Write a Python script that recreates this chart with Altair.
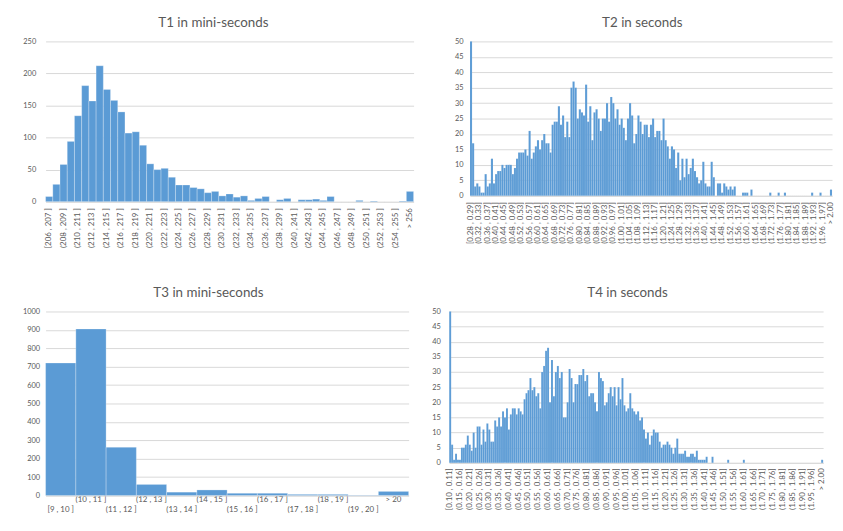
import json
import altair as alt
import pandas as pd

# ---------------- data ----------------
# T1 (mini-seconds), bins of width 1
t1_labels = ["[206 , 207 ]"] + [f"({a} , {a + 1} ]" for a in range(207, 256)] + ["> 256"]
t1_counts = [8, 27, 58, 94, 134, 181, 157, 212, 175, 158,
             140, 107, 109, 88, 59, 50, 52, 38, 26, 26,
             22, 20, 14, 16, 9, 12, 7, 9, 2, 5,
             8, 0, 3, 5, 0, 3, 3, 4, 2, 8,
             0, 0, 0, 2, 0, 1, 0, 0, 0, 1, 16]

# T2 (seconds), bins of width 0.01 from 0.28
t2_labels = ["[0.28 , 0.29]"] + [f"({lo / 100:.2f} , {(lo + 1) / 100:.2f}]" for lo in range(29, 200)] + ["> 2.00"]
t2_counts = [50, 17, 3, 4, 3, 1, 1, 7, 3, 4,
             12, 4, 7, 8, 8, 10, 9, 10, 10, 10,
             7, 9, 12, 14, 14, 14, 15, 13, 21, 12,
             14, 16, 18, 15, 18, 20, 17, 17, 14, 23,
             24, 24, 29, 23, 26, 19, 24, 19, 35, 37,
             35, 25, 28, 27, 26, 36, 24, 29, 18, 27,
             28, 25, 21, 25, 25, 30, 24, 32, 30, 25,
             28, 23, 25, 22, 18, 25, 30, 26, 17, 20,
             26, 24, 20, 23, 23, 19, 23, 25, 19, 21,
             21, 18, 25, 18, 16, 12, 16, 15, 9, 14,
             5, 12, 6, 12, 7, 9, 12, 8, 6, 4,
             5, 11, 4, 3, 3, 11, 6, 0, 4, 4,
             1, 4, 3, 2, 3, 2, 3, 0, 0, 0,
             1, 1, 1, 0, 2, 0, 0, 0, 0, 0,
             0, 0, 0, 1, 0, 0, 0, 1, 0, 0,
             1, 0, 0, 0, 0, 0, 0, 0, 0, 0,
             0, 0, 0, 1, 0, 0, 0, 1, 0, 0,
             0, 0, 2]

# T3 (mini-seconds), bins of width 1
t3_labels = ["[9 , 10 ]"] + [f"({a} , {a + 1} ]" for a in range(10, 20)] + ["> 20"]
t3_counts = [720, 905, 262, 60, 18, 30, 12, 12, 6, 6, 2, 22]

# T4 (seconds), bins of width 0.01 from 0.10
t4_labels = ["[0.10 , 0.11]"] + [f"({lo / 100:.2f} , {(lo + 1) / 100:.2f}]" for lo in range(11, 200)] + ["> 2.00"]
t4_counts = [50, 6, 1, 3, 1, 1, 5, 5, 6, 9,
             6, 4, 10, 5, 12, 12, 6, 11, 7, 13,
             11, 7, 7, 14, 12, 15, 12, 17, 15, 18,
             11, 16, 18, 18, 16, 18, 17, 16, 21, 23,
             24, 28, 24, 25, 22, 23, 18, 30, 32, 37,
             38, 20, 34, 22, 30, 32, 28, 30, 15, 15,
             20, 31, 28, 20, 26, 26, 29, 29, 31, 27,
             29, 22, 23, 23, 20, 17, 30, 28, 27, 19,
             20, 23, 25, 22, 25, 19, 25, 21, 28, 19,
             17, 18, 23, 18, 17, 16, 17, 14, 15, 11,
             8, 10, 6, 9, 11, 10, 10, 7, 5, 6,
             6, 7, 6, 5, 3, 5, 8, 3, 3, 3,
             4, 2, 2, 3, 3, 2, 4, 1, 1, 1,
             1, 2, 0, 0, 2, 0, 0, 0, 0, 0,
             0, 0, 1, 0, 0, 0, 0, 0, 0, 0,
             1, 0, 0, 0, 0, 0, 0, 0, 0, 0,
             0, 0, 0, 0, 0, 0, 0, 0, 0, 0,
             0, 0, 0, 0, 0, 0, 0, 0, 0, 0,
             0, 0, 0, 0, 0, 0, 0, 0, 0, 0,
             1]

# y-axis tick values
t1_yticks = [0, 50, 100, 150, 200, 250]
t2_yticks = [0, 5, 10, 15, 20, 25, 30, 35, 40, 45, 50]
t3_yticks = [0, 100, 200, 300, 400, 500, 600, 700, 800, 900, 1000]
t4_yticks = [0, 5, 10, 15, 20, 25, 30, 35, 40, 45, 50]

# x labels that Excel shows
t1_shown = t1_labels[::2]
t2_shown = t2_labels[::4]
t4_shown = t4_labels[::5]
t3_lower_row = t3_labels[::2]

BLUE = "#5B9BD5"
GRID = "#D9D9D9"
TEXT = "#595959"
FONT = "Lato"


def hist(labels, counts, title, width, height, yticks, yext, ypad, x_axis, sw, so):
    df = pd.DataFrame({"bin": labels, "count": counts})
    return (
        alt.Chart(df, title=alt.TitleParams(title, font=FONT, fontSize=13.5, fontWeight="normal",
                                            color=TEXT, anchor="middle", frame="bounds", offset=8))
        .mark_bar(color=BLUE, stroke="#ffffff", strokeWidth=sw, strokeOpacity=so)
        .encode(
            x=alt.X("bin:N", sort=labels, title=None,
                    scale=alt.Scale(paddingInner=0, paddingOuter=0),
                    axis=x_axis),
            y=alt.Y("count:Q", title=None,
                    scale=alt.Scale(domain=[yticks[0], yticks[-1]], nice=False, zero=True),
                    axis=alt.Axis(values=yticks, format="d", domain=False, ticks=False, tickSize=0,
                                  grid=True, gridColor=GRID, gridWidth=1,
                                  labelFont=FONT, labelFontSize=7.5, labelColor=TEXT,
                                  labelPadding=ypad, minExtent=yext, maxExtent=yext)),
        )
        .properties(width=width, height=height)
    )


def rot_axis(shown, pad):
    return alt.Axis(values=shown, labelAngle=-90, labelOverlap=False, domain=True,
                    domainColor=GRID, domainWidth=1, ticks=False, tickSize=0, grid=False,
                    labelFont=FONT, labelFontSize=8, labelColor=TEXT, labelPadding=pad)


lower_js = json.dumps(t3_lower_row)
t3_axis = alt.Axis(labelAngle=0, labelOverlap=False, domain=True, domainColor=GRID, domainWidth=1,
                   ticks=False, tickSize=0, grid=False, labelFont=FONT, labelFontSize=8,
                   labelColor=TEXT, labelPadding=0, labelLineHeight=10.5, labelBaseline="top",
                   labelExpr=f"indexof({lower_js}, datum.value) >= 0 ? ['', datum.label] : datum.label")

c1 = hist(t1_labels, t1_counts, "T1 in mini-seconds", 372, 162, t1_yticks, 33, 10, rot_axis(t1_shown, 6), 0.6, 0.45)
c2 = hist(t2_labels, t2_counts, "T2 in seconds", 366, 156, t2_yticks, 20, 7, rot_axis(t2_shown, 6), 0.3, 0.3)
c3 = hist(t3_labels, t3_counts, "T3 in mini-seconds", 367, 186, t3_yticks, 38, 6, t3_axis, 0.6, 0.45)
c4 = hist(t4_labels, t4_counts, "T4 in seconds", 378, 153, t4_yticks, 20, 9, rot_axis(t4_shown, 5), 0.3, 0.3)

row1 = alt.hconcat(c1, c2, spacing=36)
row2 = alt.hconcat(c3, c4, spacing=20)

chart = (
    alt.vconcat(row1, row2, spacing=38)
    .properties(padding={"left": 0, "top": 5, "right": 0, "bottom": 0}, background="#ffffff")
    .configure_view(stroke=None)
)

chart.save("out.html", embed_options={"renderer": "svg", "actions": False})
